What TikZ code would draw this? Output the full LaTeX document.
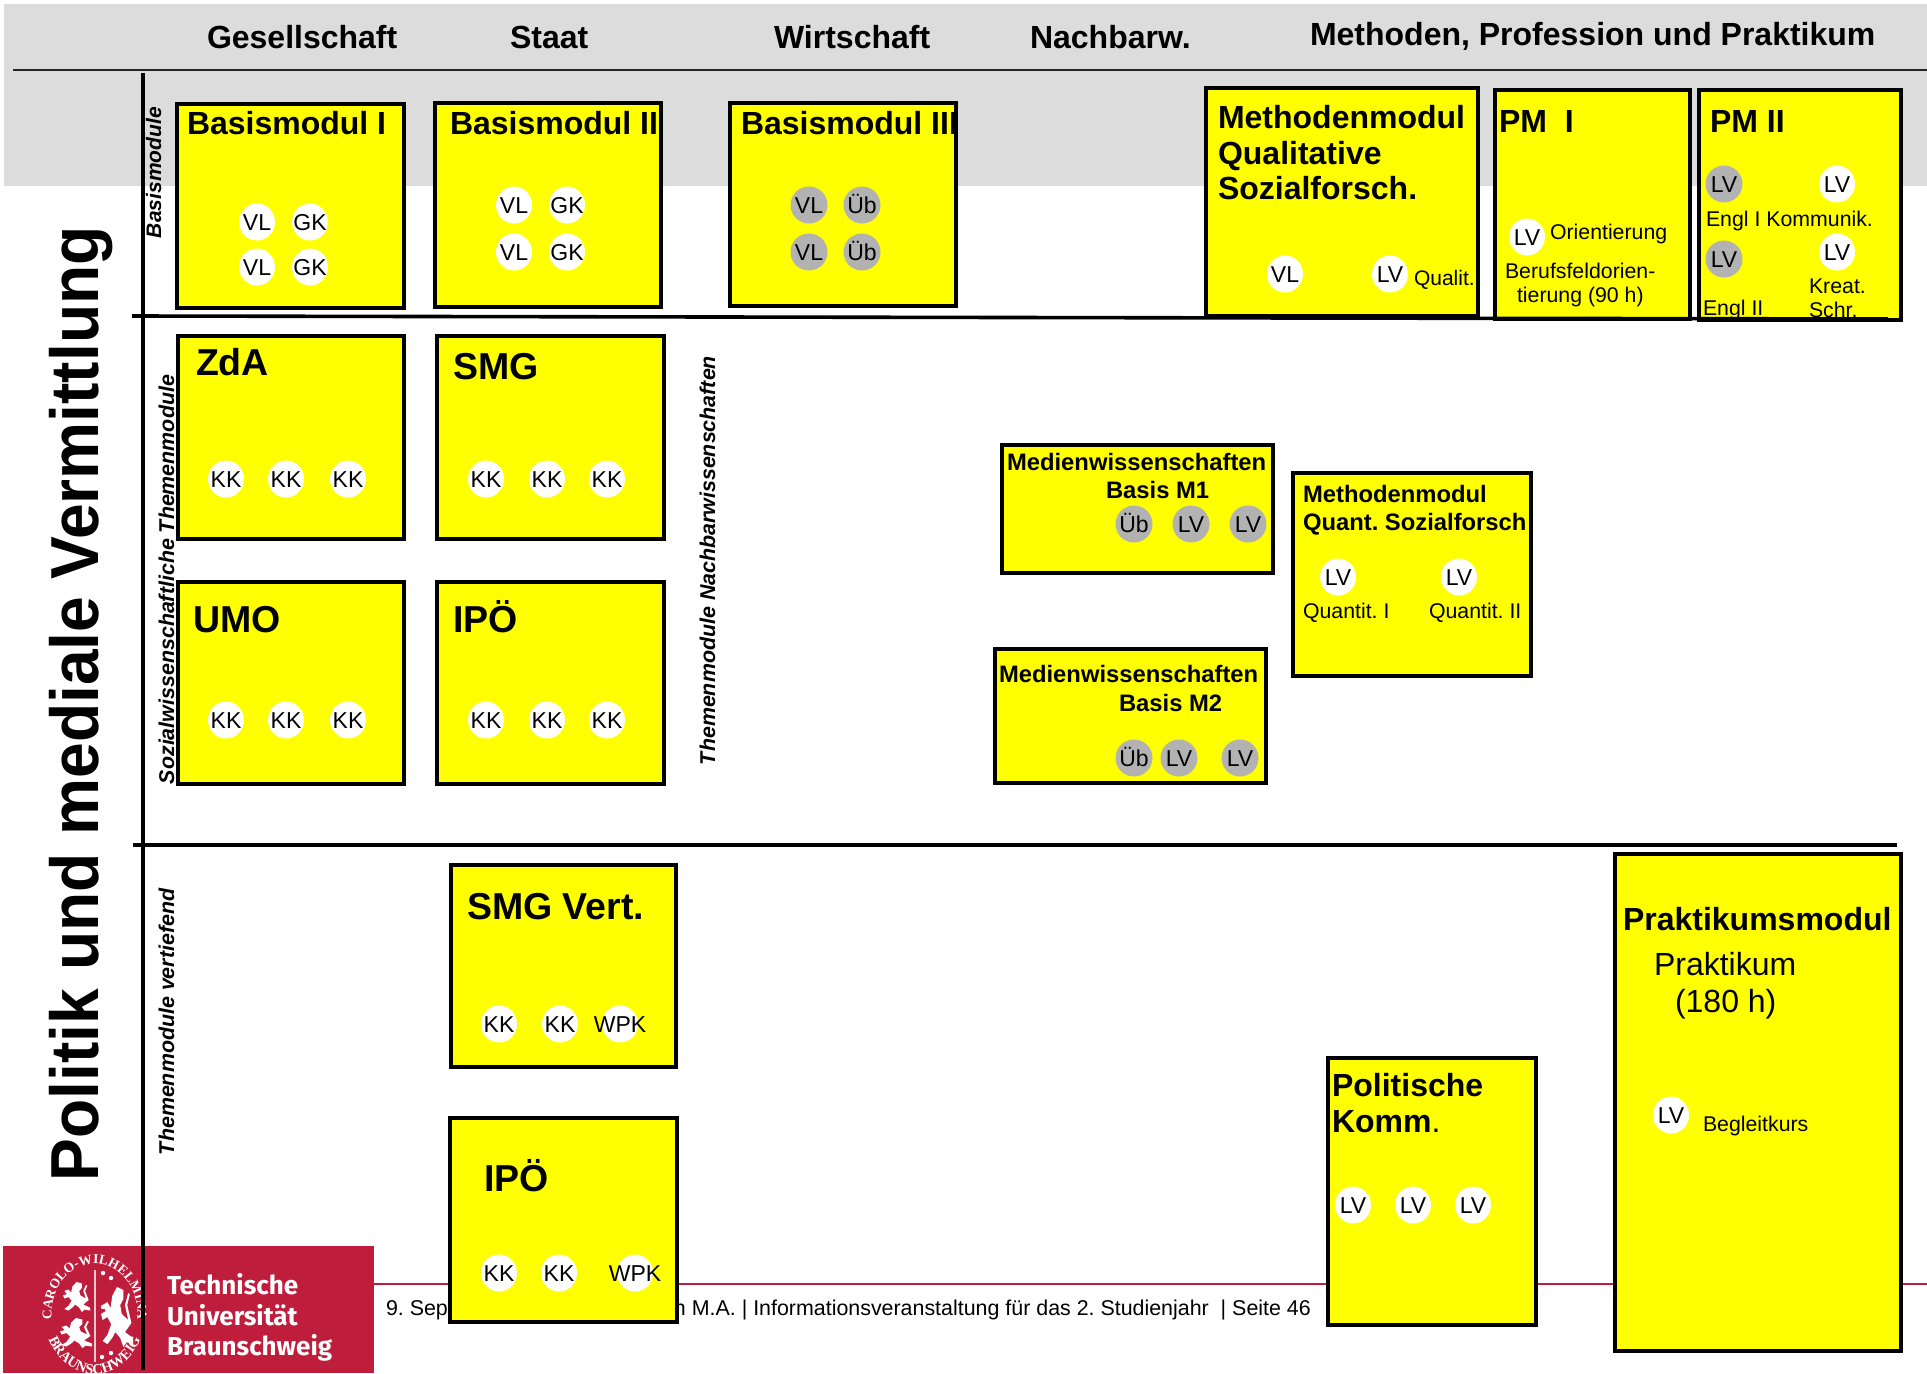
\documentclass[tikz,border=0pt]{standalone}
\usepackage{fontspec}
\setmainfont{Liberation Sans}
\newfontfamily\sealfont{Liberation Serif}
\newfontfamily\logofont{Fira Sans}
\usetikzlibrary{shapes.geometric,decorations.text}
\definecolor{tured}{HTML}{BE1E3C}
\definecolor{hdr}{HTML}{DCDCDC}
\definecolor{bgrey}{HTML}{B2B2B2}
\definecolor{yel}{rgb}{1,1,0}
\newcommand{\fsz}[1]{\fontsize{#1}{#1}\selectfont}
\frenchspacing
\tikzset{
  modul/.style={draw=black,fill=yel,line width=4.2pt,inner sep=0pt,outer sep=0pt},
  lbl/.style={anchor=base west,inner sep=0pt,outer sep=0pt},
  badgew/.style={ellipse,fill=white,inner sep=0pt,minimum width=36pt,minimum height=37pt},
  badgeg/.style={ellipse,fill=bgrey,inner sep=0pt,minimum width=37pt,minimum height=37pt},
  btext/.style={inner sep=0pt,text height=17pt,text depth=0pt,font=\fsz{23}},
  rule/.style={line width=3.6pt,black}
}
\newcommand{\modbox}[5]{%
  \pgfmathsetlengthmacro\bw{#4-#2-1.6}\pgfmathsetlengthmacro\bh{#5-#3-1.6}%
  \pgfmathsetmacro\bx{#2+0.8}\pgfmathsetmacro\by{#3+0.8}%
  \node[modul,minimum width=\bw,minimum height=\bh,anchor=north west] (#1) at (\bx,\by) {};}
\newcommand{\wb}[4]{\node[badgew] (#1) at (#2,#3) {};\node[btext] (#1t) at (#2,#3) {#4};}
\newcommand{\gb}[4]{\node[badgeg] (#1) at (#2,#3) {};\node[btext] (#1t) at (#2,#3) {#4};}
\newcommand{\tn}[5]{\node[lbl] (#1) at (#2,#3) {\fsz{#4}#5};}
\newcommand{\tb}[5]{\node[lbl] (#1) at (#2,#3) {\fsz{#4}\bfseries #5};}
\newcommand{\tr}[5]{\node[lbl,rotate=90] (#1) at (#2,#3) {\fsz{#4}\bfseries\itshape #5};}
\newcommand{\lionshape}[4]{% x y w h
  \fill[white,shift={(#1,#2)},x=#3pt,y=-#4pt] (0.05,0.3)--(.2,.25)--(.3,.35)--(.35,.15)--(.5,0)--(.7,.05)--(.7,.2)--(.6,.3)--(.65,.45)--(.85,.55)--(.75,.3)--(.85,.1)--(.9,.12)--(.82,.3)--(.95,.6)--(.75,.75)--(1,.85)--(1,.95)--(.8,.92)--(.7,1)--(.6,.85)--(.45,.75)--(.35,.85)--(.2,.95)--(.05,.9)--(.2,.8)--(.32,.62)--(.2,.5)--(.05,.55)--(0,.45)--(.15,.4)--cycle;}
\begin{document}
\begin{tikzpicture}[x=1pt,y=-1pt]
\useasboundingbox (0,0) rectangle (1927,1373);
% header band
\fill[hdr] (4,4) rectangle (1927,186);
\coordinate (hl) at (13,70); \coordinate (hr) at (1927,70);
\draw[line width=2pt,black!85] (hl) -- (hr);
\tb{h1}{207}{48}{32}{Gesellschaft}
\tb{h2}{510}{48}{32}{Staat}
\tb{h3}{774}{48}{32}{Wirtschaft}
\tb{h4}{1030}{48}{32}{Nachbarw.}
\tb{h5}{1310}{45}{32}{Methoden, Profession und Praktikum}
% footer
\coordinate (fl) at (374,1284); \coordinate (fr) at (1927,1284);
\draw[tured,line width=1.6pt] (fl) -- (fr);
\tn{f1}{386}{1315}{21.4}{9. Sep}
\node[anchor=base east,inner sep=0pt] (f2) at (1311,1315) {\fsz{21.4}n M.A. | Informationsveranstaltung für das 2. Studienjahr~ | Seite 46};
% logo
\fill[tured] (3,1246) rectangle (374,1373);
\begin{scope}
\clip (3,1246) rectangle (374,1373);
\coordinate (sc) at (95,1315);
\begin{scope}[shift={(95,1315)}]
\path[decorate,decoration={text along path,text align=center,text={|\sealfont\fsz{13.5}\bfseries\color{white}|CAROLO-WILHELMINA}}]
  (-43pt,-6pt) arc[start angle=188,end angle=-8,x radius=43pt,y radius=50pt];
\path[decorate,decoration={text along path,text align=center,text={|\sealfont\fsz{14.5}\bfseries\color{white}|BRAUNSCHWEIG}}]
  (-50pt,-12pt) arc[start angle=194,end angle=346,x radius=51pt,y radius=62pt];
\end{scope}
\draw[white!75!tured,line width=1.6pt] (95,1270) -- (95,1362);
\lionshape{63}{1282}{27}{30}
\lionshape{60}{1318}{32}{30}
\lionshape{101}{1287}{32}{60}
\foreach \dx/\dy in {103/1273,111/1278,103/1307,102/1357,111/1353}
  \fill[white] (\dx,\dy) circle (2.2);
\end{scope}
\node[lbl,text=white] (l1) at (167,1294) {\logofont\fsz{26}\bfseries Technische};
\node[lbl,text=white] (l2) at (167,1325) {\logofont\fsz{26}\bfseries Universität};
\node[lbl,text=white] (l3) at (167,1355) {\logofont\fsz{26}\bfseries Braunschweig};
% boxes
\modbox{b1}{176}{103}{405}{309}
\modbox{b2}{434}{102}{662}{308}
\modbox{b3}{729}{102}{957}{307}
\modbox{mq}{1205}{87}{1479}{317}
\modbox{pm1}{1494}{89}{1691}{320}
\modbox{pm2}{1698}{89}{1902}{321}
\modbox{zda}{177}{335}{405}{540}
\modbox{smg}{436}{335}{665}{540}
\modbox{umo}{177}{581}{405}{785}
\modbox{ipo}{436}{581}{665}{785}
\modbox{m1}{1001}{444}{1274}{574}
\modbox{m2}{994}{648}{1267}{784}
\modbox{qs}{1292}{472}{1532}{677}
\modbox{sv}{450}{864}{677}{1068}
\modbox{iv}{449}{1117}{678}{1323}
\modbox{pk}{1327}{1057}{1537}{1326}
\modbox{pr}{1614}{853}{1902}{1352}
% rules
\coordinate (r1a) at (132,316); \coordinate (r1b) at (1888,319);
\coordinate (r2a) at (133,845); \coordinate (r2b) at (1897,845);
\coordinate (va) at (143,73); \coordinate (vb) at (143,1370);
\draw[rule] (r1a) -- (r1b);
\draw[rule] (r2a) -- (r2b);
\draw[rule] (va) -- (vb);
% rotated labels
\node[lbl,rotate=90] (title) at (98,1181) {\scalebox{1}[1.06]{\fsz{64.1}\bfseries Politik und mediale Vermittlung}};
\tr{r1}{161}{238}{21}{Basismodule}
\tr{r2}{174}{784}{21.4}{Sozialwissenschaftliche Themenmodule}
\tr{r3}{715}{765}{21.4}{Themenmodule Nachbarwissenschaften}
\tr{r4}{174}{1155}{21.4}{Themenmodule vertiefend}
% module titles
\tb{t1}{187}{134}{32}{Basismodul I}
\tb{t2}{450}{134}{32}{Basismodul II}
\tb{t3}{741}{134}{32}{Basismodul III}
\tb{t4a}{1218}{128}{32}{Methodenmodul}
\tb{t4b}{1218}{164}{32}{Qualitative}
\tb{t4c}{1218}{199}{32}{Sozialforsch.}
\tb{t5}{1499}{132}{32}{PM~ I}
\tb{t6}{1710}{132}{32}{PM II}
\tb{t7}{196}{375}{37.5}{ZdA}
\tb{t8}{453}{379}{37.5}{SMG}
\tb{t9}{193}{632}{37.5}{UMO}
\tb{t10}{453}{632}{37.5}{IPÖ}
\tb{t11}{467}{919}{37.5}{SMG Vert.}
\tb{t12}{484}{1191}{37.5}{IPÖ}
\tb{t13a}{1007}{470}{23.8}{Medienwissenschaften}
\tb{t13b}{1106}{498}{23.8}{Basis M1}
\tb{t14a}{999}{682}{23.8}{Medienwissenschaften}
\tb{t14b}{1119}{711}{23.8}{Basis M2}
\tb{t15a}{1303}{502}{23.8}{Methodenmodul}
\tb{t15b}{1303}{530}{23.8}{Quant. Sozialforsch}
\node[lbl] (t16a) at (1332,1096) {\fsz{32}\bfseries Politische};
\node[lbl] (t16b) at (1332,1132) {\fsz{32}\bfseries Komm\mdseries.};
\tb{t17}{1623}{930}{32}{Praktikumsmodul}
\tn{t18a}{1654}{975}{32}{Praktikum}
\tn{t18b}{1675}{1012}{32}{(180 h)}
% small labels
\tn{s1}{1414}{285}{21}{Qualit.}
\tn{s2}{1550}{239}{21.3}{Orientierung}
\tn{s3}{1505}{278}{21.3}{Berufsfeldorien-}
\tn{s4}{1517}{302}{21.3}{tierung (90 h)}
\tn{s5}{1706}{226}{21.3}{Engl I Kommunik.}
\tn{s6}{1703}{315}{21.3}{Engl II}
\tn{s7}{1809}{293}{21.3}{Kreat.}
\tn{s8}{1809}{317}{21.3}{Schr.}
\tn{s9}{1303}{618}{21.3}{Quantit. I}
\tn{s10}{1429}{618}{21.3}{Quantit. II}
\tn{s11}{1703}{1131}{21.3}{Begleitkurs}
% badges
\wb{a1}{257}{222}{VL}\wb{a2}{310}{222}{GK}\wb{a3}{257}{267}{VL}\wb{a4}{310}{267}{GK}
\wb{a5}{514}{205}{VL}\wb{a6}{567}{205}{GK}\wb{a7}{514}{252}{VL}\wb{a8}{567}{252}{GK}
\gb{a9}{809}{205}{VL}\gb{a10}{862}{205}{Üb}\gb{a11}{809}{252}{VL}\gb{a12}{862}{252}{Üb}
\wb{a13}{1285}{274}{VL}\wb{a14}{1390}{274}{LV}\wb{a15}{1527}{237}{LV}
\gb{a16}{1724}{184}{LV}\wb{a17}{1837}{184}{LV}\gb{a18}{1724}{259}{LV}\wb{a19}{1837}{252}{LV}
\wb{c1}{226}{479}{KK}\wb{c2}{286}{479}{KK}\wb{c3}{348}{479}{KK}
\wb{c4}{486}{479}{KK}\wb{c5}{547}{479}{KK}\wb{c6}{607}{479}{KK}
\wb{c7}{226}{720}{KK}\wb{c8}{286}{720}{KK}\wb{c9}{348}{720}{KK}
\wb{c10}{486}{720}{KK}\wb{c11}{547}{720}{KK}\wb{c12}{607}{720}{KK}
\gb{d1}{1134}{524}{Üb}\gb{d2}{1191}{524}{LV}\gb{d3}{1248}{524}{LV}
\gb{d4}{1134}{758}{Üb}\gb{d5}{1179}{758}{LV}\gb{d6}{1240}{758}{LV}
\wb{d7}{1338}{577}{LV}\wb{d8}{1459}{577}{LV}
\wb{e1}{499}{1024}{KK}\wb{e2}{560}{1024}{KK}\wb{e3}{620}{1024}{WPK}
\wb{e4}{499}{1273}{KK}\wb{e5}{559}{1273}{KK}\wb{e6}{635}{1273}{WPK}
\wb{g1}{1353}{1205}{LV}\wb{g2}{1413}{1205}{LV}\wb{g3}{1473}{1205}{LV}
\wb{g4}{1671}{1115}{LV}
\end{tikzpicture}
\end{document}
